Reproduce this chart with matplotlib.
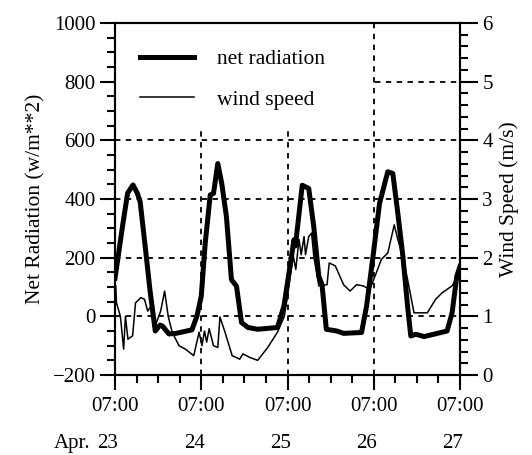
import numpy as np
import matplotlib.pyplot as plt
from matplotlib.patches import Rectangle
from matplotlib.ticker import MultipleLocator

plt.rcParams['font.family'] = ['Liberation Serif', 'DejaVu Serif']

# hours since Apr 23 07:00, net radiation (w/m**2)
rad_h = [0, 2, 3.5, 5, 6.2, 7, 8.6, 9.7, 11.2, 12.5, 13.2, 15, 17, 21.4, 22.8,
         24, 25.1, 26.5, 27.4, 28.6, 29.7, 31, 32.4, 33.8, 35.2, 37, 39.7, 45.2,
         47, 48.4, 49.8, 50.2, 50.7, 52.1, 53.9, 55.3, 56.7, 57.6, 58.8, 61.7,
         63.6, 68.6, 70, 71.8, 73.6, 75.9, 77.3, 78.7, 80.1, 81.4, 82.3, 83.7,
         86, 88.7, 92.4, 93.8, 95.1, 96]
rad_w = [130, 300, 420, 448, 420, 390, 216, 92, -50, -30, -33, -60, -58, -46, 1,
         69, 250, 414, 419, 521, 453, 340, 125, 103, -21, -38, -44, -38,
         35, 148, 261, 240, 295, 447, 436, 306, 137, 108, -44, -50,
         -58, -55, 35, 205, 385, 493, 487, 351, 205, 35, -67, -61,
         -69, -61, -50, 12, 137, 170]

# hours since Apr 23 07:00, wind speed (m/s)
wind_h = [0.2, 0.4, 1.5, 2.4, 2.9, 3.6, 4.9, 5.7, 7.2, 8.2, 9.1, 10.3, 11.2, 12.7,
          13.8, 14.8, 15.9, 17.8, 19.6, 21.9, 23.4, 24.2, 24.9, 25.5, 26.2, 27.4,
          28.6, 29.2, 30.6, 32.6, 34.7, 35.6, 37.5, 39.7, 42.5, 45.2, 47.1, 48.0,
          48.9, 49.6, 50.3, 51.2, 51.8, 52.6, 53.0, 53.9, 54.7, 55.3, 56.7, 59.0,
          59.6, 61.3, 63.6, 65.4, 67.2, 69.0, 70.9, 72.7, 74.1, 75.9, 77.7, 78.7,
          80.0, 81.4, 83.2, 86.9, 89.2, 91.0, 93.8, 95.1, 96]
wind_v = [1.52, 1.23, 1.0, 0.44, 1.0, 0.61, 0.67, 1.23, 1.32, 1.29, 1.09, 1.2, 0.84, 1.09,
          1.43, 1.0, 0.73, 0.5, 0.44, 0.33, 0.73, 0.5, 0.75, 0.56, 0.79, 0.5,
          0.47, 0.99, 0.73, 0.33, 0.27, 0.36, 0.3, 0.25, 0.47, 0.73, 1.0, 1.35,
          1.74, 2.03, 1.8, 2.31, 2.05, 2.36, 2.05, 2.36, 2.42, 2.03, 1.52, 1.54,
          1.91, 1.86, 1.54, 1.43, 1.54, 1.52, 1.46, 1.74, 1.97, 2.08, 2.56, 2.31,
          2.03, 1.63, 1.06, 1.06, 1.29, 1.4, 1.52, 1.66, 1.75]

day_ticks = [0, 24, 48, 72, 96]
day_labels = ['07:00'] * 5
dates = ['23', '24', '25', '26', '27']

fig = plt.figure(figsize=(5.32, 4.55), dpi=100)
ax = fig.add_axes([0.2162, 0.1758, 0.6485, 0.7736])
ax2 = ax.twinx()

ax.set_xlim(0, 96)
ax.set_ylim(-200, 1000)
ax2.set_ylim(0, 6)

ax.set_xticks(day_ticks)
ax.set_xticklabels(day_labels)
ax.xaxis.set_minor_locator(MultipleLocator(6))
ax.yaxis.set_major_locator(MultipleLocator(200))
ax.yaxis.set_minor_locator(MultipleLocator(50))
ax2.yaxis.set_major_locator(MultipleLocator(1))
ax2.yaxis.set_minor_locator(MultipleLocator(0.2))

ax.grid(True, which='major', color='black', linestyle=(0, (3, 3)), linewidth=1.3)

# blank area behind the legend hides the grid
ax.add_patch(Rectangle((0, 0.705), 0.74, 0.3, transform=ax.transAxes,
                       facecolor='white', edgecolor='none', zorder=1.8))

ax.plot(rad_h, rad_w, color='black', linewidth=3.6, zorder=3, label='net radiation')
ax2.plot(wind_h, wind_v, color='black', linewidth=1.1, zorder=3)
ax.plot([], [], color='black', linewidth=1.1, label='wind speed')

for a in (ax, ax2):
    for s in a.spines.values():
        s.set_linewidth(1.5)
ax.tick_params(which='major', direction='out', length=11, width=1.5, labelsize=15, pad=3)
ax.tick_params(which='minor', direction='out', length=6, width=1.5)
ax.tick_params(axis='x', which='major', pad=5)
ax2.tick_params(which='major', direction='out', length=13, width=1.5, labelsize=15, pad=3)
ax2.tick_params(which='minor', direction='out', length=6, width=1.5)

ax.set_ylabel('Net Radiation (w/m**2)', fontsize=15.5, labelpad=5)
ax2.set_ylabel('Wind Speed (m/s)', fontsize=15.5, labelpad=5)

for h, d in zip(day_ticks, dates):
    ax.text(h - 2, -0.195, d, transform=ax.get_xaxis_transform(),
            ha='center', va='center', fontsize=15)
ax.text(-6.8, -0.195, 'Apr.', transform=ax.get_xaxis_transform(),
        ha='right', va='center', fontsize=15)

ax.legend(loc='upper left', bbox_to_anchor=(0.072, 0.925), frameon=False,
          fontsize=15.5, handlelength=2.5, handletextpad=1.1, labelspacing=0.95,
          borderpad=0, borderaxespad=0)

fig.savefig('out.png', dpi=100)
